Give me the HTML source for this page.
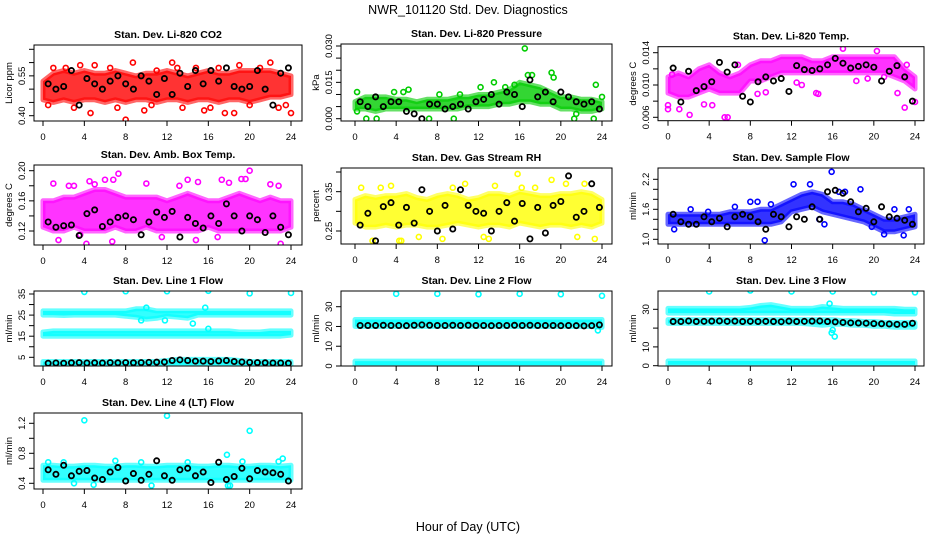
<!DOCTYPE html>
<html><head><meta charset="utf-8">
<style>
html,body{margin:0;padding:0;background:#fff;}
svg{display:block;font-family:"Liberation Sans",Arial,sans-serif;}
</style></head>
<body>
<svg id="chart" width="936" height="540" viewBox="0 0 936 540">
<text x="468" y="14" text-anchor="middle" font-size="12.5">NWR_101120  Std. Dev. Diagnostics</text>
<text x="468" y="531" text-anchor="middle" font-size="12.5">Hour of Day (UTC)</text>
</svg>
<script>
// ---------- data ----------
const xTicks = [0,4,8,12,16,20,24];
const bandHours = [0,1,2,3,4,5,6,7,8,9,10,11,12,13,14,15,16,17,18,19,20,21,22,23,24];

const co2Lo = [0.46,0.45,0.46,0.45,0.46,0.46,0.45,0.46,0.45,0.46,0.46,0.45,0.46,0.46,0.45,0.46,0.46,0.45,0.46,0.46,0.45,0.46,0.47,0.47,0.48];
const co2Hi = [0.53,0.56,0.57,0.56,0.57,0.56,0.56,0.57,0.56,0.55,0.56,0.56,0.57,0.56,0.55,0.56,0.57,0.56,0.56,0.57,0.57,0.57,0.57,0.56,0.55];
const co2OutH = [1,2.2,3,4.6,5,6.5,7.2,8,8.7,9.8,11,12.5,13.5,14.8,15.6,16.2,17,17.6,18.5,19,20,21,22,22.8,23.5,24,0.5,3.6,10.5,13];
const co2OutV = [0.58,0.58,0.43,0.41,0.59,0.58,0.43,0.385,0.60,0.42,0.57,0.60,0.43,0.58,0.42,0.43,0.58,0.41,0.41,0.59,0.44,0.58,0.60,0.43,0.44,0.41,0.44,0.59,0.44,0.58];
const co2Black = [0.52,0.50,0.51,0.57,0.44,0.54,0.52,0.50,0.53,0.55,0.52,0.50,0.55,0.53,0.48,0.54,0.48,0.56,0.51,0.57,0.52,0.57,0.53,0.58,0.51,0.50,0.51,0.57,0.50,0.44,0.56,0.58];

const presLo = [0.004,0.004,0.003,0.004,0.004,0.004,0.004,0.004,0.004,0.004,0.004,0.005,0.005,0.005,0.006,0.006,0.007,0.007,0.006,0.006,0.004,0.004,0.003,0.003,0.004];
const presHi = [0.007,0.009,0.009,0.009,0.008,0.008,0.007,0.008,0.008,0.008,0.009,0.009,0.010,0.010,0.011,0.012,0.015,0.014,0.013,0.011,0.009,0.009,0.008,0.008,0.007];
const presOutH = [0.2,0.2,1.1,2.1,4.7,5.2,3.8,7.2,8.2,9.6,10.2,13.5,16.5,16.8,17.2,19.1,19.3,21.3,21.5,23.2,23.4,24,15.5,12.2,14.6];
const presOutV = [0.011,0.003,0,0,0.011,0.012,0.011,0,0.010,0,0.010,0.015,0.029,0.018,0.018,0.019,0.017,0,0.002,0,0.014,0.009,0.014,0.013,0.013];
const presBlack = [0.007,0.005,0.009,0.005,0.007,0.007,0.003,0.002,0.000,0.006,0.006,0.004,0.005,0.006,0.004,0.007,0.008,0.010,0.006,0.011,0.010,0.005,0.016,0.009,0.011,0.007,0.011,0.009,0.007,0.006,0.007,0.004];

const tempLo = [0.009,0.0085,0.0085,0.009,0.0095,0.009,0.009,0.009,0.0105,0.0105,0.011,0.0115,0.0115,0.0115,0.0115,0.0115,0.0115,0.0115,0.0115,0.0115,0.0115,0.0115,0.011,0.0105,0.0095];
const tempHi = [0.011,0.0115,0.011,0.012,0.0125,0.0115,0.011,0.0115,0.0125,0.013,0.013,0.0135,0.0135,0.0135,0.013,0.013,0.0135,0.0135,0.0135,0.0135,0.0135,0.0135,0.0135,0.012,0.011];
const tempOutH = [0,0,0.4,1.1,2.1,3.5,4.3,5.5,5.8,6.8,8.7,9.5,12.5,13,14.4,14.6,17,18.3,19.4,21,22.3,23,23.2,24,20.3];
const tempOutV = [0.0075,0.0070,0.0113,0.007,0.0063,0.0076,0.0075,0.006,0.006,0.0125,0.0089,0.0091,0.0103,0.0100,0.009,0.0089,0.0145,0.0105,0.0108,0.0110,0.0090,0.0072,0.0125,0.0079,0.0142];
const tempBlack = [0.0121,0.0079,0.0117,0.0093,0.0098,0.0104,0.0128,0.0116,0.0125,0.0086,0.0079,0.0104,0.0110,0.0105,0.0108,0.0092,0.0124,0.0119,0.0118,0.0120,0.0125,0.0133,0.0127,0.0121,0.0123,0.0125,0.0122,0.0105,0.0117,0.0124,0.0110,0.0080];

const ambLo = [0.125,0.12,0.12,0.125,0.12,0.12,0.12,0.125,0.12,0.12,0.125,0.12,0.12,0.12,0.12,0.12,0.125,0.12,0.12,0.12,0.12,0.12,0.12,0.12,0.125];
const ambHi = [0.16,0.16,0.165,0.165,0.17,0.175,0.175,0.17,0.165,0.165,0.165,0.165,0.16,0.165,0.17,0.165,0.16,0.16,0.165,0.17,0.165,0.16,0.165,0.16,0.16];
const ambOutH = [1,2.5,3,4.5,5,6,6.8,7.3,10,13.2,14,15,17.3,18,19.2,19.6,20,22,22.8,1.5,4.2,6.7,14.8,23,11.5,3.6,16.9];
const ambOutV = [0.183,0.18,0.18,0.186,0.182,0.188,0.188,0.196,0.183,0.18,0.188,0.185,0.188,0.184,0.189,0.189,0.2,0.182,0.18,0.108,0.103,0.106,0.108,0.103,0.112,0.115,0.112];
const ambBlack = [0.132,0.125,0.127,0.128,0.114,0.143,0.148,0.126,0.132,0.138,0.140,0.135,0.115,0.132,0.145,0.138,0.146,0.112,0.138,0.130,0.124,0.140,0.130,0.156,0.140,0.120,0.140,0.135,0.118,0.140,0.125,0.115];

const rhLo = [0.27,0.26,0.26,0.265,0.26,0.265,0.265,0.26,0.26,0.265,0.27,0.265,0.26,0.265,0.265,0.26,0.27,0.265,0.26,0.265,0.265,0.26,0.265,0.26,0.27];
const rhHi = [0.33,0.34,0.335,0.34,0.34,0.345,0.335,0.33,0.34,0.345,0.34,0.33,0.335,0.345,0.345,0.34,0.35,0.345,0.34,0.34,0.345,0.345,0.35,0.345,0.33];
const rhOutH = [1.7,3.5,4.3,4.5,8.5,9.5,10.7,12.5,13,13.6,15.8,16.2,17.5,19.1,20.5,22.3,21.6,23.3,6.2,2.5,0.6];
const rhOutV = [0.225,0.365,0.225,0.225,0.23,0.36,0.37,0.235,0.23,0.365,0.395,0.36,0.36,0.38,0.37,0.37,0.235,0.23,0.235,0.36,0.36];
const rhBlack = [0.265,0.295,0.225,0.312,0.322,0.265,0.31,0.27,0.355,0.30,0.25,0.315,0.255,0.355,0.315,0.30,0.295,0.25,0.30,0.322,0.275,0.32,0.23,0.31,0.245,0.315,0.325,0.39,0.285,0.30,0.37,0.31];

const flowLo = [1.3,1.3,1.3,1.3,1.3,1.3,1.3,1.3,1.3,1.3,1.3,1.35,1.55,1.6,1.65,1.55,1.5,1.45,1.4,1.35,1.25,1.15,1.15,1.2,1.25];
const flowHi = [1.5,1.5,1.5,1.5,1.5,1.5,1.55,1.55,1.55,1.6,1.6,1.7,1.8,1.9,1.95,1.9,1.75,1.75,1.7,1.6,1.5,1.4,1.4,1.45,1.5];
const flowOutH = [0.6,2.2,3.9,6.5,8,8.7,9.4,10,12.2,13.8,15.9,15.2,14.7,17.2,16.6,18.7,19.8,21,22,22.9,23.4];
const flowOutV = [1.2,1.6,1.55,1.65,1.75,1.75,0.98,1.7,2.1,2.1,2.35,1.3,1.4,1.95,1.95,2.0,1.25,1.1,1.6,1.08,1.6];
const flowBlack = [1.5,1.35,1.3,1.3,1.45,1.35,1.42,1.25,1.45,1.5,1.45,1.35,1.2,1.5,1.45,1.25,1.45,1.4,1.65,1.4,1.95,1.98,1.92,1.75,1.55,1.62,1.35,1.65,1.45,1.42,1.38,1.3];

const l1UpLo = [25,25,24.8,25,25,25,25,25,24.5,24,23,23.5,24.5,24,23.5,25,25,25,25,25,25,25,25,25,25];
const l1UpHi = [27,27,27,27,27,27,27,27,27,28,28,27,27,27,27,27,27,27,27,27,27,27,27,27,27];
const l1MidLo = [15,15,15,15,15,15,15,15,15,15,15,15,15,15,15,15,15,15,15,15,15,15,15,15,15.5];
const l1MidHi = [17,17.5,17.5,17.5,17.5,17.5,17.5,17.5,17.5,17.5,17.5,17.5,17.5,17.5,17.5,17.5,17.5,17.5,17.5,17,17,17,17.5,17.5,17.5];
const l1LowLo = [1.3,1.3,1.3,1.3,1.3,1.3,1.3,1.3,1.3,1.3,1.3,1.3,1.5,1.5,1.5,1.5,1.5,1.5,1.5,1.3,1.3,1.3,1.3,1.3,1.3];
const l1LowHi = [3,3,3,3,3,3,3,3,3,3,3,3,3.5,4,4,4,4,4,4,3.5,3,3,3,3,3];
const l1OutH = [4,8,12,16,20,24,10,14.5,15.7,16,9.5,11.8];
const l1OutV = [36,36.3,36.3,36.5,35.3,35.5,28.5,21,28.5,18.5,22.5,22.5];
const l1Black = [2.2,2.3,2.2,2.4,2.5,2.3,2.4,2.3,2.5,2.4,2.5,2.4,2.5,2.6,2.7,2.8,3.5,3.8,3.5,3.2,3.2,3.0,3.3,3.5,3.0,2.8,2.6,2.5,2.4,2.3,2.3,2.2];

const l2UpLo = [20,20,20,20,20,20,20,20,20,20,20,20,20,20,20,20,20,20,20,20,20,20,20,20,19.5];
const l2UpHi = [23.5,23.5,23.5,23.5,23.5,23.5,23.5,23.5,23.5,23.5,23.5,23.5,23.5,23.5,23.5,23.5,23.5,23.5,23.5,23.5,23.5,23.5,23.5,23.5,23.5];
const l2LowLo = [0.5,0.5,0.5,0.5,0.5,0.5,0.5,0.5,0.5,0.5,0.5,0.5,0.5,0.5,0.5,0.5,0.5,0.5,0.5,0.5,0.5,0.5,0.5,0.5,0.5];
const l2LowHi = [2.5,2.5,2.5,2.5,2.5,2.5,2.5,2.5,2.5,2.5,2.5,2.5,2.5,2.5,2.5,2.5,2.5,2.5,2.5,2.5,2.5,2.5,2.5,2.5,2.5];
const l2OutH = [4,8,12,16,20,24,23.6];
const l2OutV = [36.5,36.5,36.3,36.5,36.3,35.5,18];
const l2Black = [20.5,20.5,20.5,20.6,20.5,20.5,20.4,20.6,20.8,20.6,20.5,20.5,20.6,20.5,20.6,20.5,20.5,20.4,20.5,20.5,20.6,20.5,20.6,20.5,20.5,20.5,20.4,20.5,20.4,20.3,20.4,20.8];

const l3UpLo = [28,28,28,28,28,28,28,28,28,28,28,28,28,28,28,28,28,28,28,28,28,28,27.5,27.5,27.5];
const l3UpHi = [30.5,30.5,30.5,30.5,30.5,30.5,30.5,30.5,31,32,32.5,31.5,30.5,30.5,30.5,31.5,31,30.5,30.5,30.5,30.5,30.5,30.5,30,30];
const l3MidLo = [22.5,22.5,22.5,22.5,22.5,22.5,22.5,22.5,22.5,22.5,22.5,22.5,22.5,22.5,22,21.5,22,22,21.5,21.5,21,21,20.5,20.5,20.5];
const l3MidHi = [24.5,24.5,24.5,24.5,24.5,24.5,24.5,24.5,24.5,24.5,24.5,24.5,24.5,24.5,24.5,24.5,24.5,24,24,23.5,23.5,23,23,23,23];
const l3LowLo = [0.5,0.5,0.5,0.5,0.5,0.5,0.5,0.5,0.5,0.5,0.5,0.5,0.5,0.5,0.5,0.5,0.5,0.5,0.5,0.5,0.5,0.5,0.5,0.5,0.5];
const l3LowHi = [2.5,2.5,2.5,2.5,2.5,2.5,2.5,2.5,2.5,2.5,2.5,2.5,2.5,2.5,2.5,2.5,2.5,2.5,2.5,2.5,2.5,2.5,2.5,2.5,2.5];
const l3OutH = [4,8,12,16,20,24,15.9,16.2,15.7,16];
const l3OutV = [39.5,40,39.5,39.5,39,39,17.5,15.5,33,19];
const l3Black = [23.5,23.5,23.8,23.5,23.6,23.7,23.8,23.6,23.7,23.5,23.6,23.5,23.6,23.5,23.4,23.7,23.5,23.6,23.7,23.8,23.5,23.3,23.0,22.8,22.7,22.6,22.4,22.3,22.2,22.0,22.0,22.6];

const l4Lo = [0.44,0.44,0.44,0.44,0.44,0.44,0.44,0.44,0.44,0.44,0.44,0.44,0.44,0.44,0.44,0.44,0.44,0.44,0.44,0.44,0.44,0.44,0.44,0.44,0.44];
const l4Hi = [0.64,0.64,0.63,0.63,0.64,0.64,0.63,0.63,0.64,0.64,0.63,0.63,0.64,0.64,0.64,0.63,0.63,0.64,0.64,0.63,0.63,0.64,0.64,0.63,0.64];
const l4OutH = [4,12,20,17.8,10.5,17.9,18.1,3,7,4.9,23.2,0.5,2,9.5,14,19.3,22.8];
const l4OutV = [1.24,1.30,1.10,0.78,0.37,0.37,0.37,0.40,0.70,0.38,0.73,0.68,0.68,0.68,0.68,0.69,0.69];
const l4Black = [0.58,0.52,0.64,0.50,0.56,0.57,0.47,0.45,0.55,0.61,0.43,0.53,0.44,0.52,0.70,0.50,0.44,0.58,0.60,0.50,0.55,0.41,0.68,0.45,0.49,0.60,0.46,0.57,0.55,0.54,0.52,0.43];

// ---------- layout ----------
const C1 = {l:34, r:302, x0:43, x24:291};
const C2 = {l:341, r:612, x0:355, x24:602};
const C3 = {l:658, r:924, x0:668, x24:915};
const panels = [
 {id:'co2', title:'Stan. Dev. Li-820 CO2', ylab:'Licor ppm', col:C1, t:45, b:121, c:[0.40,115.7,0.65,49.3], color:'#ff0000',
  ticks:[0.40,0.45,0.50,0.55,0.60,0.65], labels:['0.40','','','0.55','',''], bands:[[co2Lo,co2Hi]], outH:co2OutH, outV:co2OutV, black:co2Black},
 {id:'pressure', title:'Stan. Dev. Li-820 Pressure', ylab:'kPa', col:C2, t:44, b:121, c:[0,118.7,0.030,46], color:'#00cc00',
  ticks:[0,0.005,0.010,0.015,0.020,0.025,0.030], labels:['0.000','','','0.015','','','0.030'], bands:[[presLo,presHi]], outH:presOutH, outV:presOutV, black:presBlack},
 {id:'temp', title:'Stan. Dev. Li-820 Temp.', ylab:'degrees C', col:C3, t:46.7, b:120.7, c:[0.006,117.3,0.014,52.7], color:'#ff00ff',
  ticks:[0.006,0.008,0.010,0.012,0.014], labels:['0.006','','0.010','','0.014'], bands:[[tempLo,tempHi]], outH:tempOutH, outV:tempOutV, black:tempBlack},
 {id:'amb-box', title:'Stan. Dev. Amb. Box Temp.', ylab:'degrees C', col:C1, t:165, b:245, c:[0.12,231,0.20,170.7], color:'#ff00ff',
  ticks:[0.12,0.14,0.16,0.18,0.20], labels:['0.12','','0.16','','0.20'], bands:[[ambLo,ambHi]], outH:ambOutH, outV:ambOutV, black:ambBlack},
 {id:'rh', title:'Stan. Dev. Gas Stream RH', ylab:'percent', col:C2, t:168, b:244, c:[0.25,231,0.40,172], color:'#ffff00',
  ticks:[0.25,0.30,0.35,0.40], labels:['0.25','','0.35',''], bands:[[rhLo,rhHi]], outH:rhOutH, outV:rhOutV, black:rhBlack},
 {id:'sample-flow', title:'Stan. Dev. Sample Flow', ylab:'ml/min', col:C3, t:168, b:244, c:[1.0,239.3,2.2,179.3], color:'#0000ff',
  ticks:[1.0,1.2,1.4,1.6,1.8,2.0,2.2], labels:['1.0','','','1.6','','','2.2'], bands:[[flowLo,flowHi]], outH:flowOutH, outV:flowOutV, black:flowBlack},
 {id:'line1', title:'Stan. Dev. Line 1 Flow', ylab:'ml/min', col:C1, t:291, b:366, c:[5,357.3,35,294], color:'#00ffff',
  ticks:[5,10,15,20,25,30,35], labels:['5','','15','','25','','35'], bands:[[l1UpLo,l1UpHi],[l1MidLo,l1MidHi],[l1LowLo,l1LowHi]], outH:l1OutH, outV:l1OutV, black:l1Black},
 {id:'line2', title:'Stan. Dev. Line 2 Flow', ylab:'ml/min', col:C2, t:291, b:366, c:[0,366,30,306.7], color:'#00ffff',
  ticks:[0,10,20,30], labels:['0','10','20','30'], bands:[[l2UpLo,l2UpHi],[l2LowLo,l2LowHi]], outH:l2OutH, outV:l2OutV, black:l2Black},
 {id:'line3', title:'Stan. Dev. Line 3 Flow', ylab:'ml/min', col:C3, t:291, b:366, c:[0,365.7,30,309.3], color:'#00ffff',
  ticks:[0,10,20,30], labels:['0','10','','30'], bands:[[l3UpLo,l3UpHi],[l3MidLo,l3MidHi],[l3LowLo,l3LowHi]], outH:l3OutH, outV:l3OutV, black:l3Black},
 {id:'line4', title:'Stan. Dev. Line 4 (LT) Flow', ylab:'ml/min', col:C1, t:413, b:489, c:[0.4,483.3,1.2,423.3], color:'#00ffff',
  ticks:[0.4,0.6,0.8,1.0,1.2], labels:['0.4','','0.8','','1.2'], bands:[[l4Lo,l4Hi]], outH:l4OutH, outV:l4OutV, black:l4Black}
];

const NS = 'http://www.w3.org/2000/svg';
const svg = document.getElementById('chart');
function mk(tag, attrs, parent){
  const e = document.createElementNS(NS, tag);
  for (const k in attrs) e.setAttribute(k, attrs[k]);
  parent.appendChild(e);
  return e;
}

panels.forEach(p => {
  const g = mk('g', {}, svg);
  
  
  const xs = h => p.col.x0 + (p.col.x24 - p.col.x0) * h / 24;
  const ys = v => p.c[1] + (v - p.c[0]) * (p.c[3] - p.c[1]) / (p.c[2] - p.c[0]);
  const cx = (p.col.l + p.col.r) / 2;

  const title = mk('text', {x:cx, y:p.t - 7, 'text-anchor':'middle', 'font-size':10.5, 'font-weight':'bold'}, g);
  title.textContent = p.title;
  
  

  const clipId = 'clip-' + p.id;
  const cp = mk('clipPath', {id:clipId}, g);
  mk('rect', {x:p.col.l, y:p.t, width:p.col.r - p.col.l, height:p.b - p.t}, cp);
  const marks = mk('g', {'clip-path':'url(#' + clipId + ')'}, g);
  
  

  p.bands.forEach((bd, bi) => {
    const lo = bd[0], hi = bd[1];
    let pts = [];
    bandHours.forEach((h, i) => pts.push(xs(h).toFixed(1) + ',' + ys(hi[i]).toFixed(1)));
    for (let i = bandHours.length - 1; i >= 0; i--) pts.push(xs(bandHours[i]).toFixed(1) + ',' + ys(lo[i]).toFixed(1));
    const poly = mk('polygon', {points:pts.join(' '), fill:p.color, 'fill-opacity':0.8, stroke:p.color, 'stroke-opacity':0.6, 'stroke-width':5, 'stroke-linejoin':'round'}, marks);
    
    
  });
  p.outH.forEach((h, i) => {
    const c = mk('circle', {cx:xs(h), cy:ys(p.outV[i]), r:2.5, fill:'none', stroke:p.color, 'stroke-width':1.6}, marks);
    
    
  });
  p.black.forEach((v, i) => {
    const h = 0.5 + i * 0.75;
    const c = mk('circle', {cx:xs(h), cy:ys(v), r:2.6, fill:'none', stroke:'#000', 'stroke-width':1.8}, marks);
    
    
  });

  const box = mk('rect', {x:p.col.l, y:p.t, width:p.col.r - p.col.l, height:p.b - p.t, fill:'none', stroke:'#000', 'stroke-width':1}, g);
  
  

  xTicks.forEach(t => {
    const x = xs(t);
    const tk = mk('line', {x1:x, x2:x, y1:p.b, y2:p.b + 5, stroke:'#000'}, g);
    
    
    const lb = mk('text', {x:x, y:p.b + 19, 'text-anchor':'middle', 'font-size':9.5}, g);
    lb.textContent = t;
    
    
  });
  p.ticks.forEach((t, i) => {
    const y = ys(t);
    const tk = mk('line', {x1:p.col.l - 5, x2:p.col.l, y1:y, y2:y, stroke:'#000'}, g);
    
    
    if (p.labels[i]) {
      const lx = p.col.l - 9;
      const lb = mk('text', {x:lx, y:y, 'text-anchor':'middle', 'font-size':9.5, transform:'rotate(-90 ' + lx + ' ' + y + ')'}, g);
      lb.textContent = p.labels[i];
      
      
    }
  });
  const yl = p.col.l - 22, ym = (p.t + p.b) / 2;
  const ylab = mk('text', {x:yl, y:ym, 'text-anchor':'middle', 'font-size':9.5, transform:'rotate(-90 ' + yl + ' ' + ym + ')'}, g);
  ylab.textContent = p.ylab;
  
  
});
</script>
</body></html>
